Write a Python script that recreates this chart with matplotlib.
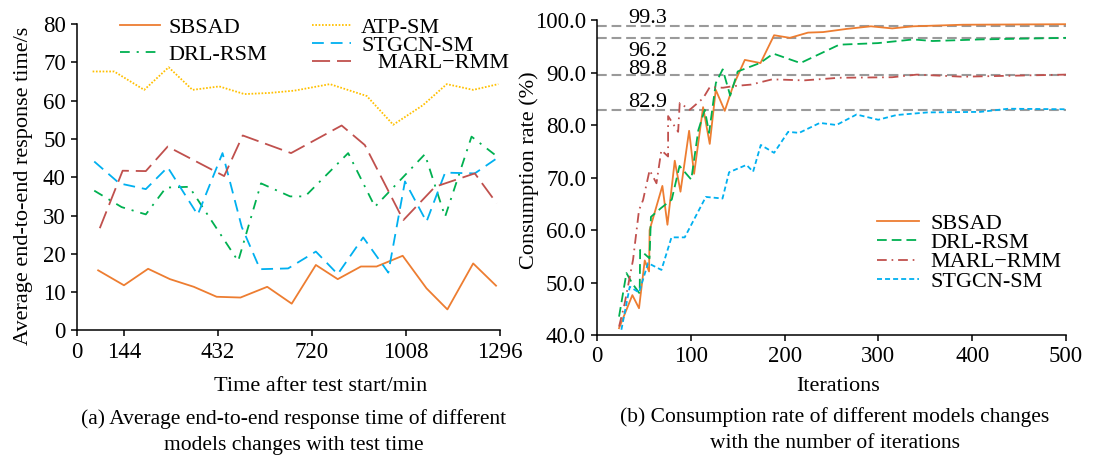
import numpy as np
import matplotlib
matplotlib.use("Agg")
import matplotlib.pyplot as plt
from matplotlib.ticker import FormatStrFormatter

plt.rcParams['font.family'] = ['Liberation Serif', 'DejaVu Serif']
plt.rcParams['lines.scale_dashes'] = False

# (a) average end-to-end response time vs test time
t_sbsad = [65, 144, 218, 285, 358, 428, 501, 583, 658, 732, 799, 870, 918, 998, 1071, 1135, 1214, 1284]
rt_sbsad = [15.7, 11.8, 16.1, 13.4, 11.4, 8.8, 8.6, 11.4, 7.0, 17.1, 13.4, 16.7, 16.7, 19.5, 11.0, 5.5, 17.5, 11.7]

t_atp = [48, 114, 206, 281, 354, 436, 513, 590, 666, 775, 888, 969, 1060, 1133, 1214, 1291]
rt_atp = [67.6, 67.6, 62.8, 68.7, 62.8, 63.7, 61.7, 62.0, 62.6, 64.3, 61.2, 53.7, 58.8, 64.3, 62.8, 64.3]

t_drl = [53, 137, 211, 273, 344, 494, 564, 653, 699, 831, 913, 1066, 1128, 1209, 1286]
rt_drl = [36.5, 32.2, 30.3, 37.3, 37.5, 18.1, 38.4, 35.0, 35.0, 46.3, 32.3, 46.0, 29.7, 50.6, 45.5]

t_stgcn = [53, 130, 211, 278, 370, 446, 505, 561, 647, 732, 799, 877, 954, 1005, 1071, 1128, 1219, 1291]
rt_stgcn = [44.1, 38.4, 36.9, 42.6, 30.2, 46.3, 27.0, 16.0, 16.2, 20.6, 14.7, 24.3, 15.1, 38.9, 28.4, 41.2, 41.0, 45.2]

t_marl = [70, 140, 211, 278, 451, 508, 656, 811, 882, 1000, 1097, 1219, 1286]
rt_marl = [26.7, 41.7, 41.6, 48.0, 40.3, 50.9, 46.3, 53.5, 48.4, 28.8, 37.5, 41.0, 33.2]

time_ticks = [0, 144, 432, 720, 1008, 1296]

# (b) consumption rate vs iterations
it_sbsad = [23.5, 37.7, 44.8, 50.9, 55.5, 56.1, 69.7, 75.1, 82.9, 89.0, 98.2, 103.5, 113.1, 120.2,
            126.6, 136.2, 145, 157.6, 174.3, 188.8, 205.6, 225, 241, 266, 292, 314.7, 337, 390, 500]
cr_sbsad = [41.3, 47.6, 45.1, 54.2, 52.1, 60.0, 68.4, 61.0, 73.2, 67.3, 78.9, 70.7, 83.4, 76.4,
            86.7, 82.7, 87.4, 92.4, 91.8, 97.1, 96.6, 97.6, 97.7, 98.3, 98.8, 98.4, 98.8, 99.1, 99.2]

it_drl = [23.5, 31.4, 37.7, 45.5, 46.0, 56.0, 57.5, 68.4, 79.7, 88.0, 100.5, 108, 114.9, 119.5,
          126.7, 134, 142, 150, 173.7, 188, 216.9, 258.3, 299.6, 337, 358, 408.6, 500]
cr_drl = [43.5, 51.8, 49.8, 47.9, 56.2, 54.6, 62.5, 64.2, 65.8, 72.2, 69.6, 79.0, 82.9, 78.5,
          88.0, 90.6, 85.6, 90.2, 91.8, 93.6, 91.8, 95.3, 95.6, 96.3, 96.0, 96.3, 96.6]

it_marl = [23.5, 29.5, 38.4, 44.8, 49.1, 56.1, 63.4, 68.6, 75.8, 75.8, 86.5, 88.2, 98.9, 113.1,
           120.2, 134.4, 145, 164.3, 186.8, 220.7, 258.3, 314.7, 341, 390, 500]
cr_marl = [41.6, 46.0, 54.3, 63.8, 65.7, 71.4, 68.9, 75.2, 74.0, 81.7, 78.7, 84.2, 82.9, 85.1,
           87.2, 87.1, 87.4, 87.7, 88.7, 88.5, 89.0, 89.1, 89.6, 89.2, 89.6]

it_stgcn = [26, 34.9, 44.8, 54.4, 68.7, 79.4, 93.5, 116, 133.8, 140.8, 159.4, 166.4, 174.6, 188.8,
            203.8, 215.5, 237.6, 255.3, 276.7, 299.8, 319.3, 352.3, 408.6, 438.7, 500]
cr_stgcn = [41.0, 49.2, 48.1, 53.7, 52.4, 58.6, 58.6, 66.3, 66.0, 71.0, 72.4, 71.1, 76.2, 74.7,
            78.7, 78.5, 80.4, 80.0, 82.0, 81.0, 81.9, 82.4, 82.5, 83.1, 83.0]

# dashed reference levels as drawn, and the numbers written next to them
ref_levels = [98.9, 96.6, 89.5, 82.9]
ref_labels = ['99.3', '96.2', '89.8', '82.9']
ref_label_y = [99.4, 93.1, 89.7, 83.4]

c_orange = '#ED7D31'
c_green = '#00B050'
c_yellow = '#FFC000'
c_blue = '#00B0F0'
c_red = '#C0504D'

fig = plt.figure(figsize=(10.93, 4.61), dpi=100)
ax1 = fig.add_axes([0.0704, 0.2831, 0.387, 0.6649])
ax2 = fig.add_axes([0.5462, 0.2733, 0.4291, 0.6833])

lw = 1.3
l_sb, = ax1.plot(t_sbsad, rt_sbsad, color=c_orange, lw=lw, label='SBSAD')
l_atp, = ax1.plot(t_atp, rt_atp, color=c_yellow, lw=lw, dashes=(1.2, 1.2), label='ATP-SM')
l_drl, = ax1.plot(t_drl, rt_drl, color=c_green, lw=lw, dashes=(7, 5, 1.5, 5), label='DRL-RSM')
l_st, = ax1.plot(t_stgcn, rt_stgcn, color=c_blue, lw=lw, dashes=(8.5, 5), label='STGCN-SM')
l_ma, = ax1.plot(t_marl, rt_marl, color=c_red, lw=lw, dashes=(13, 5), label='   MARL\u2212RMM')

ax1.set_xlim(0, 1296)
ax1.set_ylim(0, 80)
ax1.set_xticks(time_ticks)
ax1.set_yticks(np.arange(0, 81, 10))

leg1 = ax1.legend(handles=[l_sb, l_drl], loc='center left', bbox_to_anchor=(120 / 1093, 420.1 / 461),
                  bbox_transform=fig.transFigure, frameon=False, fontsize=16, borderpad=0,
                  handlelength=1.8, handletextpad=0.39, labelspacing=0.3, borderaxespad=0)
ax1.add_artist(leg1)
ax1.legend(handles=[l_atp, l_st, l_ma], loc='center left', bbox_to_anchor=(311.6 / 1093, 415.5 / 461),
           bbox_transform=fig.transFigure, frameon=False, fontsize=16, borderpad=0,
           handlelength=1.78, handletextpad=0.45, labelspacing=-0.13, borderaxespad=0)

ax1.set_xlabel('Time after test start/min', fontsize=16)
ax1.xaxis.set_label_coords(0.577, -0.152)
ax1.set_ylabel('Average end-to-end response time/s', fontsize=16)
ax1.yaxis.set_label_coords(-0.104, 0.471)

# (b)
for v in ref_levels:
    ax2.axhline(v, color='#9A9A9A', lw=1.5, dashes=(7, 3.5), zorder=1)
ax2.plot(it_sbsad, cr_sbsad, color=c_orange, lw=lw, label='SBSAD', zorder=3)
ax2.plot(it_drl, cr_drl, color=c_green, lw=lw, dashes=(7, 3.6), label='DRL-RSM', zorder=3)
ax2.plot(it_marl, cr_marl, color=c_red, lw=lw, dashes=(7, 3.5, 1.2, 3.5), label='MARL\u2212RMM', zorder=3)
ax2.plot(it_stgcn, cr_stgcn, color=c_blue, lw=lw, dashes=(3.6, 2.2), label='STGCN-SM', zorder=3)

for y, s in zip(ref_label_y, ref_labels):
    ax2.text(33, y, s, fontsize=16, va='baseline', ha='left')

ax2.set_xlim(0, 500)
ax2.set_ylim(40, 100)
ax2.set_xticks(np.arange(0, 501, 100))
ax2.set_yticks(np.arange(40, 101, 10))
ax2.yaxis.set_major_formatter(FormatStrFormatter('%.1f'))
ax2.legend(loc='center left', bbox_to_anchor=(877 / 1093, 208.5 / 461), bbox_transform=fig.transFigure,
           frameon=False, fontsize=16, borderpad=0, handlelength=1.9, handletextpad=0.49,
           labelspacing=-0.06, borderaxespad=0)
ax2.set_xlabel('Iterations', fontsize=16)
ax2.xaxis.set_label_coords(0.514, -0.134)
ax2.set_ylabel('Consumption rate (%)', fontsize=16)
ax2.yaxis.set_label_coords(-0.124, 0.524)

for ax in (ax1, ax2):
    ax.spines[['top', 'right']].set_visible(False)
    ax.spines[['left', 'bottom']].set_linewidth(1.1)
    ax.tick_params(direction='out', length=4, width=1.1, labelsize=16.5, pad=4)

fig.text(294 / 1093, 1 - 419 / 461, '(a) Average end-to-end response time of different',
         fontsize=15.5, ha='center', va='center')
fig.text(294 / 1093, 1 - 445 / 461, 'models changes with test time',
         fontsize=15.5, ha='center', va='center')
fig.text(835 / 1093, 1 - 417 / 461, '(b) Consumption rate of different models changes',
         fontsize=15.5, ha='center', va='center')
fig.text(835 / 1093, 1 - 443 / 461, 'with the number of iterations',
         fontsize=15.5, ha='center', va='center')

fig.savefig('out.png', dpi=100)
